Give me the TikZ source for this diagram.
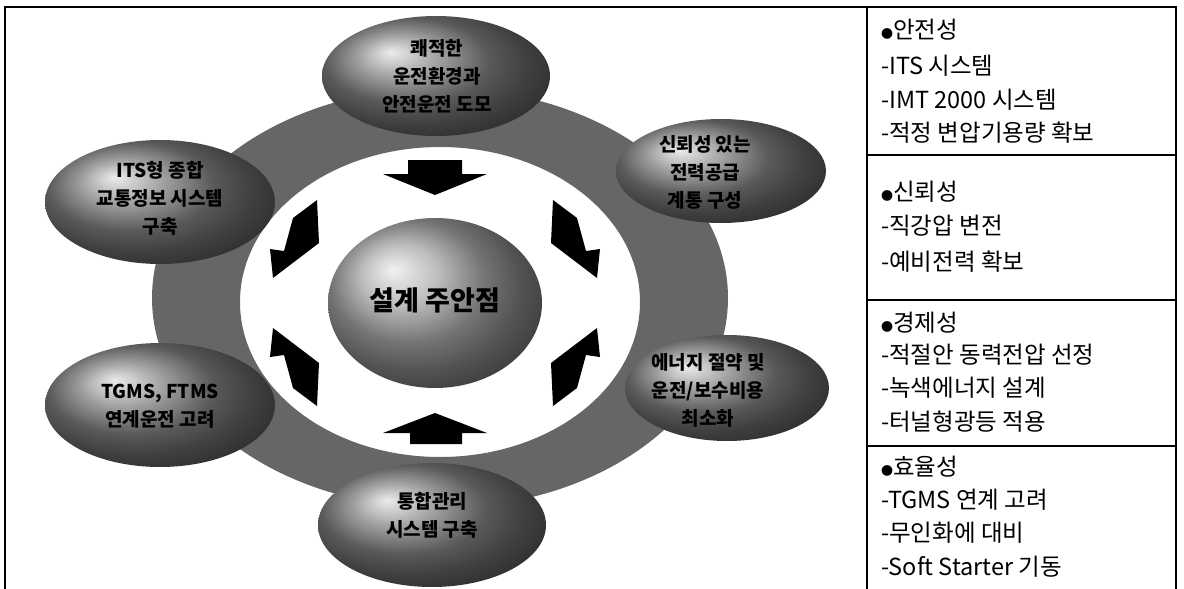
\documentclass[tikz,border=0pt]{standalone}
\usepackage{fontspec}
\newfontfamily\kr{Noto Sans CJK KR}
\usetikzlibrary{shapes.geometric}
\begin{document}
\begin{tikzpicture}[x=1pt,y=-1pt,
  ell/.style={ellipse, inner sep=0pt, draw=none, ball color=black!50},
  sphere/.style={ellipse, inner sep=0pt, draw=none, ball color=black!35},
  etext/.style={font=\kr\bfseries\fontsize{19}{28}\selectfont, align=center, text=black, inner sep=0pt},
  ctext/.style={font=\kr\bfseries\fontsize{27}{30}\selectfont, text=black, inner sep=0pt},
  rtext/.style={font=\kr\fontsize{23.5}{25}\selectfont, anchor=west, inner sep=0pt},
  frameline/.style={line width=1.8pt},
  sepline/.style={line width=1.2pt},
  pics/boltarrow/.style={code={
    \fill[black] (-118,-103) -- (-116,-60) -- (-162,-25) -- (-165,-54) -- (-151,-52) -- (-142,-85) -- cycle;
  }}
]
\useasboundingbox (0,0) rectangle (1184,589);

% ---------- ring ----------
\fill[black!60, even odd rule]
  (440,298) ellipse [x radius=288pt, y radius=210pt]
  (440,302) ellipse [x radius=200pt, y radius=155pt];

% ---------- outer ellipses ----------
\node[ell, minimum width=228pt, minimum height=120pt] (eT)  at (436,76)  {};
\node[ell, minimum width=210pt, minimum height=104pt] (eUR) at (721,171) {};
\node[ell, minimum width=204pt, minimum height=106pt] (eLR) at (727,388) {};
\node[ell, minimum width=228pt, minimum height=124pt] (eB)  at (432,525) {};
\node[ell, minimum width=230pt, minimum height=124pt] (eUL) at (160,202) {};
\node[ell, minimum width=230pt, minimum height=124pt] (eLL) at (160,405) {};

\node[etext] (tT)  at (437,76)  {쾌적한\\운전환경과\\안전운전 도모};
\node[etext] (tUR) at (705,172) {신뢰성 있는\\전력공급\\계통 구성};
\node[etext] (tLR) at (708,390) {에너지 절약 및\\운전/보수비용\\최소화};
\node[etext] (tB)  at (432,515) {통합관리\\시스템 구축};
\node[etext] (tUL) at (160,198) {ITS형 종합\\교통정보 시스템\\구축};
\node[etext] (tLL) at (160,406) {TGMS, FTMS\\연계운전 고려};

% ---------- centre sphere ----------
\node[sphere, minimum width=214pt, minimum height=170pt] (cS) at (435,303) {};
\node[ctext] (cT) at (435,300) {설계 주안점};

% ---------- straight arrows ----------
\fill[black] (408,160) -- (462,160) -- (462,174) -- (487,174) -- (435,195) -- (383,174) -- (408,174) -- cycle;
\fill[black] (410,444) -- (462,444) -- (462,433) -- (487,433) -- (435,413) -- (383,433) -- (410,433) -- cycle;

% ---------- bolt arrows ----------
\coordinate (cc) at (435,303);
\pic at (cc) {boltarrow};
\pic[xscale=-1] at (cc) {boltarrow};
\pic[yscale=-1] at (cc) {boltarrow};
\pic[scale=-1] at (cc) {boltarrow};

% ---------- frame ----------
\coordinate (fTL) at (5,7);
\coordinate (fTR) at (1176,7);
\coordinate (fBL) at (5,589);
\coordinate (fBR) at (1176,589);
\coordinate (sT) at (867,7);
\coordinate (sB) at (867,589);
\draw[frameline] (fBL) -- (fTL) -- (fTR) -- (fBR);
\draw[sepline] (sT) -- (sB);
\coordinate (h1a) at (867,155); \coordinate (h1b) at (1176,155);
\coordinate (h2a) at (867,300); \coordinate (h2b) at (1176,300);
\coordinate (h3a) at (867,446); \coordinate (h3b) at (1176,446);
\draw[sepline] (h1a) -- (h1b);
\draw[sepline] (h2a) -- (h2b);
\draw[sepline] (h3a) -- (h3b);

% ---------- table text ----------
\node[rtext] (r1)  at (881,30)  {{\fontsize{12}{12}\selectfont ●}안전성};
\node[rtext] (r2)  at (881,66)  {-ITS 시스템};
\node[rtext] (r3)  at (881,100) {-IMT 2000 시스템};
\node[rtext] (r4)  at (881,133) {-적정 변압기용량 확보};
\node[rtext] (r5)  at (881,192) {{\fontsize{12}{12}\selectfont ●}신뢰성};
\node[rtext] (r6)  at (881,226) {-직강압 변전};
\node[rtext] (r7)  at (881,262) {-예비전력 확보};
\node[rtext] (r8)  at (881,323) {{\fontsize{12}{12}\selectfont ●}경제성};
\node[rtext] (r9)  at (881,355) {-적절안 동력전압 선정};
\node[rtext] (r10) at (881,388) {-녹색에너지 설계};
\node[rtext] (r11) at (881,422) {-터널형광등 적용};
\node[rtext] (r12) at (881,467) {{\fontsize{12}{12}\selectfont ●}효율성};
\node[rtext] (r13) at (881,500) {-TGMS 연계 고려};
\node[rtext] (r14) at (881,533) {-무인화에 대비};
\node[rtext] (r15) at (881,567) {-Soft Starter 기동};
\end{tikzpicture}
\end{document}
